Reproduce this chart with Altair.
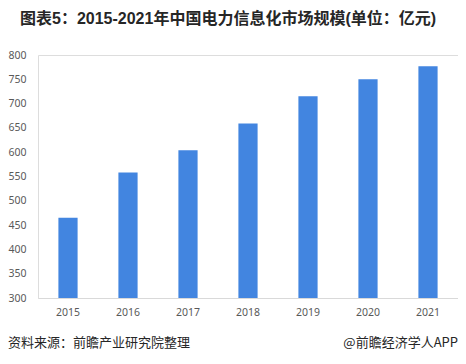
import altair as alt
import pandas as pd

years = ["2015", "2016", "2017", "2018", "2019", "2020", "2021"]
values = [465, 558, 604, 659, 715, 750, 777]
y_ticks = [300, 350, 400, 450, 500, 550, 600, 650, 700, 750, 800]

title_text = "图表5：2015-2021年中国电力信息化市场规模(单位：亿元)"
source_text = "资料来源：前瞻产业研究院整理"
brand_text = "@前瞻经济学人APP"

df = pd.DataFrame({"year": years, "value": values})

W, H = 420, 243
BAR = "#4285E0"
GRAY = "#595959"

bars = alt.Chart(df).mark_bar(color=BAR).encode(
    x=alt.X("year:N", sort=years,
            scale=alt.Scale(paddingInner=0.68, paddingOuter=0.34),
            axis=alt.Axis(title=None, labelAngle=0, ticks=False, domainColor="#d9d9d9",
                          domainWidth=1, labelPadding=9, labelFont="Noto Sans",
                          labelFontSize=10.5, labelColor=GRAY)),
    y=alt.Y("value:Q", scale=alt.Scale(domain=[300, 800], zero=False, nice=False),
            axis=alt.Axis(title=None, values=y_ticks, grid=False, domain=False, ticks=False,
                          labelPadding=12, labelFont="Noto Sans", labelFontSize=10.5,
                          labelColor=GRAY)),
    y2=alt.datum(300),
)

title = alt.Chart(pd.DataFrame({"t": [title_text]})).mark_text(
    align="left", baseline="alphabetic", font="Liberation Sans, Noto Sans CJK SC",
    fontSize=16, fontWeight="bold", color="#262626"
).encode(text="t:N", x=alt.value(-18), y=alt.value(-31.5))

source = alt.Chart(pd.DataFrame({"t": [source_text]})).mark_text(
    align="left", baseline="middle", font="Noto Sans CJK SC", fontSize=13, color="#262626"
).encode(text="t:N", x=alt.value(-30), y=alt.value(288))

brand = alt.Chart(pd.DataFrame({"t": [brand_text]})).mark_text(
    align="right", baseline="middle", font="Noto Sans CJK SC", fontSize=13, color="#262626"
).encode(text="t:N", x=alt.value(W), y=alt.value(288))

chart = alt.layer(bars, title, source, brand).properties(
    width=W, height=H,
    autosize=alt.AutoSizeParams(type="none"),
    padding={"left": 30, "top": 47, "right": 0, "bottom": 66},
).configure_view(stroke=None).configure(background="white")

chart.save("out.html", embed_options={"renderer": "svg", "actions": False})
